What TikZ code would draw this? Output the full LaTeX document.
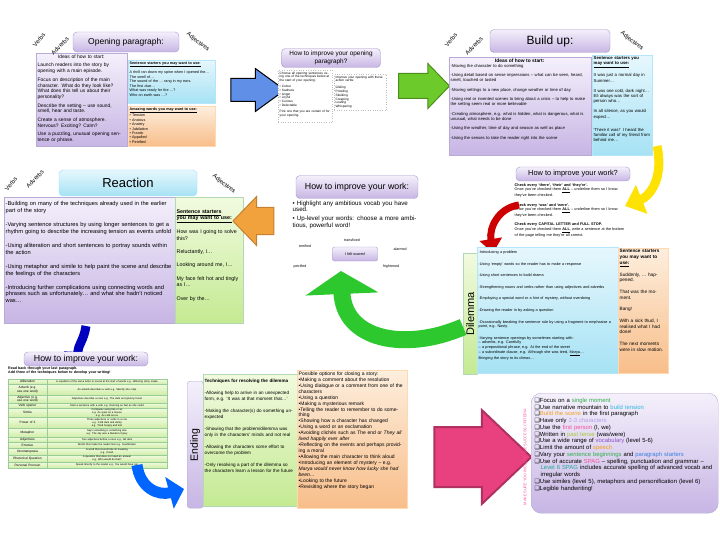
\documentclass[tikz,border=0pt]{standalone}
\usepackage{fontspec}
\setmainfont{Liberation Sans}
\newfontfamily\symfont{DejaVu Sans}
\usetikzlibrary{shapes.arrows,arrows.meta}

\definecolor{lavtop}{HTML}{F4F0FB}
\definecolor{lavbot}{HTML}{C7B5E4}
\definecolor{lavline}{HTML}{A696CC}
\definecolor{cyantop}{HTML}{E6F7FD}
\definecolor{cyanbot}{HTML}{A6E2F4}
\definecolor{orangetop}{HTML}{FDEEDD}
\definecolor{orangebot}{HTML}{F8BE8A}
\definecolor{greentop}{HTML}{F1FADF}
\definecolor{greenbot}{HTML}{C4EA92}
\definecolor{arrowblue}{HTML}{5F8FE6}
\definecolor{arrowgreen}{HTML}{6CCB2A}
\definecolor{arroworange}{HTML}{F2A23C}
\definecolor{arrowpink}{HTML}{E9417F}
\definecolor{bentgreen}{HTML}{2DC82D}
\definecolor{ckgreen}{HTML}{2FAE4A}
\definecolor{ckcyan}{HTML}{2EB8E0}
\definecolor{ckorange}{HTML}{F0A020}
\definecolor{cklav}{HTML}{B49CE6}
\definecolor{ckpink}{HTML}{F0509A}
\definecolor{ckyg}{HTML}{A8C838}
\definecolor{ckpurple}{HTML}{8A4FC8}
\definecolor{ckblue}{HTML}{3A7FE0}
\definecolor{ckteal}{HTML}{1FA89A}

\newcommand\ckitem{\par\noindent\hangindent=6pt\hangafter=1{\symfont\char"2751}}

\tikzset{
  titlebox/.style={draw=lavline, rounded corners=4pt, top color=lavtop, bottom color=lavbot, align=center, inner sep=1pt},
  purplepanel/.style={anchor=north west, inner sep=0pt, draw=lavline!80, top color=lavtop, bottom color=lavbot},
  cyanpanel/.style={anchor=north west, inner sep=0pt, draw=cyan!30, top color=cyantop, bottom color=cyanbot},
  orangepanel/.style={anchor=north west, inner sep=0pt, draw=orange!30, top color=orangetop, bottom color=orangebot},
  greenpanel/.style={anchor=north west, inner sep=0pt, draw=green!50!black!30, top color=greentop, bottom color=greenbot},
  plainpanel/.style={anchor=north west, inner sep=0pt, draw=gray!50, dotted, fill=white},
  tinytext/.style={anchor=north west, align=left, inner sep=1.5pt, font=\fontsize{3.9}{4.5}\selectfont},
  sidelabel/.style={font=\fontsize{6}{7}\selectfont, inner sep=0pt},
  wordlabel/.style={font=\fontsize{3.6}{4}\selectfont},
  blockarrow/.style={single arrow, inner xsep=0pt, line width=1pt},
  bentarrow/.style={line width=#1, line cap=butt},
}

\begin{document}
\begin{tikzpicture}[x=1pt,y=-1pt]
\useasboundingbox (0,0) rectangle (720,540);

% opening paragraph
\node[purplepanel, minimum width=91pt, minimum height=93pt] (openIdeas) at (36,53) {};
\node[tinytext, text width=87pt, font=\fontsize{4.9}{5.7}\selectfont] (openIdeasText) at (openIdeas.north west) {%
  \centering Ideas of how to start:\par\raggedright\vspace{3pt}
  Launch readers into the story by opening with a main episode.\\[3pt]
  Focus on description of the main character. What do they look like? What does this tell us about their personality?\\[3pt]
  Describe the setting -- use sound, smell, hear and taste.\\[3pt]
  Create a sense of atmosphere. Nervous? Exciting? Calm?\\[3pt]
  Use a puzzling, unusual opening sentence or phrase.};
\node[cyanpanel, minimum width=87pt, minimum height=43pt] (openStarters) at (128,60) {};
\node[tinytext, text width=84pt, font=\fontsize{3.7}{4.5}\selectfont] (openStartersText) at (openStarters.north west) {%
  \textbf{\underline{Sentence starters you may want to use:}}\\[3pt]
  A thrill ran down my spine when I opened the\ldots\\
  The smell of\ldots\\
  The sound of the \ldots{} rang in my ears.\\
  The first clue\ldots\\
  What was ready for the \ldots?\\
  Who on earth was \ldots?};
\node[orangepanel, minimum width=87pt, minimum height=40pt] (openWords) at (128,106) {};
\node[tinytext, text width=84pt, font=\fontsize{3.7}{4.4}\selectfont] (openWordsText) at (openWords.north west) {%
  \textbf{\underline{Amazing words you may want to use:}}\\
  \textbullet\ Tension\\ \textbullet\ Anxious\\ \textbullet\ Anxiety\\ \textbullet\ Jubilation\\
  \textbullet\ Frantic\\ \textbullet\ Appalled\\ \textbullet\ Petrified};
\node[titlebox, minimum width=106pt, minimum height=20pt, font=\fontsize{8.5}{10}\selectfont] (openTitle) at (126,42) {Opening paragraph:};
\node[sidelabel, rotate=50] (openVerbs) at (39,40) {Verbs};
\node[sidelabel, rotate=45] (openAdverbs) at (60,46) {Adverbs};
\node[sidelabel, rotate=-38] (openAdjectives) at (198,42) {Adjectives};

\node[blockarrow, draw=black, fill=arrowblue, minimum height=54pt, minimum width=42pt, inner ysep=11pt,
  single arrow head extend=10pt, single arrow tip angle=72] (arrowOne) at (250,90) {};

% improving the opening
\node[plainpanel, minimum width=54pt, minimum height=52pt] (impOpenLeft) at (278,70) {};
\node[tinytext, text width=51pt, font=\fontsize{3.2}{3.8}\selectfont] (impOpenLeftText) at (impOpenLeft.north west) {%
  Choose all opening sentences using one of the techniques below at the start of your opening:\\[2pt]
  \textbullet\ Colour\\ \textbullet\ Sadness\\ \textbullet\ Anger\\ \textbullet\ Joyful\\
  \textbullet\ Curious\\ \textbullet\ Delectable\\[2pt]
  Pick one that you are certain of for your opening.};
\node[plainpanel, minimum width=52pt, minimum height=36pt] (impOpenRight) at (334,74) {};
\node[tinytext, text width=49pt, font=\fontsize{3.2}{3.8}\selectfont] (impOpenRightText) at (impOpenRight.north west) {%
  Improve your opening with these action verbs:\\[3pt]
  Gliding\\ Prowling\\ Skulking\\ Creeping\\ Loafing\\ Whispering};
\node[titlebox, minimum width=99pt, minimum height=19pt, font=\fontsize{6.4}{7.4}\selectfont] (impOpenTitle) at (331,58) {How to improve your opening\\paragraph?};

\node[blockarrow, draw=arrowgreen!70!black, fill=arrowgreen, minimum height=51pt, minimum width=44pt, inner ysep=12pt,
  single arrow head extend=10pt, single arrow tip angle=92] (arrowTwo) at (418,86) {};

% build up
\node[purplepanel, minimum width=142pt, minimum height=98pt] (buildIdeas) at (449,57) {};
\node[tinytext, text width=138pt, font=\fontsize{4.2}{5}\selectfont] (buildIdeasText) at (buildIdeas.north west) {%
  \centering\textbf{\fontsize{4.9}{5.5}\selectfont Ideas of how to start:}\par\raggedright
  -Moving the character to do something\\[4.5pt]
  -Using detail based on sense impressions -- what can be seen, heard, smelt, touched or tasted\\[4.5pt]
  -Moving settings to a new place, change weather or time of day\\[4.5pt]
  -Using real or invented scenes to bring about a crisis -- to help to make the setting seem real or more believable\\[4.5pt]
  -Creating atmosphere, e.g. what is hidden, what is dangerous, what is unusual, what needs to be done\\[4.5pt]
  -Using the weather, time of day and season as well as place\\[4.5pt]
  -Using the senses to take the reader right into the scene};
\node[cyanpanel, minimum width=60pt, minimum height=100pt] (buildStarters) at (592,55) {};
\node[tinytext, text width=57pt, font=\fontsize{4.3}{5.2}\selectfont] (buildStartersText) at (buildStarters.north west) {%
  \textbf{Sentence starters you \underline{may want to use:}}\\[5pt]
  It was just a normal day in Summer\ldots\\[5pt]
  It was one cold, dark night\ldots\\
  Eli always was the sort of person who\ldots\\[5pt]
  In all silence, as you would expect\ldots\\[8pt]
  `There it was!' I heard the familiar call of my friend from behind me\ldots};
\node[titlebox, minimum width=120pt, minimum height=23pt, font=\fontsize{12}{14}\selectfont] (buildTitle) at (550,41) {Build up:};
\node[sidelabel, rotate=50] (buildVerbs) at (451,40) {Verbs};
\node[sidelabel, rotate=45] (buildAdverbs) at (474,46) {Adverbs};
\node[sidelabel, rotate=-38] (buildAdjectives) at (632,41) {Adjectives};

% checking the work
\node[titlebox, minimum width=114pt, minimum height=14pt, font=\fontsize{7.4}{8}\selectfont] (checkTitle) at (573,174) {How to improve your work?};
\node[tinytext, text width=112pt, font=\fontsize{3.8}{4.5}\selectfont] (checkText) at (513,182) {%
  \textbf{Check every `there', `their' and `they're'.}\\
  Once you've checked them \textbf{\underline{ALL}} -- underline them so I know they've been checked.\\[5pt]
  \textbf{Check every `was' and `were'.}\\
  Once you've checked them \textbf{\underline{ALL}} -- underline them so I know they've been checked.\\[5pt]
  \textbf{Check every CAPITAL LETTER and FULL STOP.}\\
  Once you've checked them \textbf{\underline{ALL}}, write a sentence at the bottom of the page telling me they're all correct.};
\coordinate (yellowStart) at (657,146);
\coordinate (yellowEnd) at (625,206);
\draw[bentarrow=9pt, draw=yellow!85!orange, -{Triangle[length=18pt, width=30pt]}]
  (yellowStart) .. controls (664,178) and (650,196) .. (yellowEnd);
\coordinate (redStart) at (519,205);
\coordinate (redEnd) at (493,253);
\draw[bentarrow=7pt, draw=red!80!black, -{Triangle[length=14pt, width=22pt]}]
  (redStart) .. controls (498,208) and (489,228) .. (redEnd);

% dilemma
\node[greenpanel, minimum width=14pt, minimum height=121pt] (dilLabel) at (463,253) {};
\node[rotate=90, font=\fontsize{11}{12}\selectfont] (dilLabelText) at (dilLabel.center) {Dilemma};
\node[cyanpanel, minimum width=141pt, minimum height=126pt] (dilIdeas) at (477,247) {};
\node[tinytext, text width=136pt, font=\fontsize{3.8}{4.6}\selectfont] (dilIdeasText) at ([yshift=-2pt]dilIdeas.north west) {%
  -Introducing a problem\\[7pt]
  -Using `empty' words so the reader has to make a response\\[7pt]
  -Using short sentences to build drama\\[7pt]
  -Strengthening nouns and verbs rather than using adjectives and adverbs\\[7pt]
  -Employing a special word or a hint of mystery, without overdoing\\[7pt]
  -Drawing the reader in by asking a question\\[7pt]
  -Occasionally breaking the sentence rule by using a fragment to emphasise a point, e.g. Nasty.\\[7pt]
  -Varying sentence openings by sometimes starting with:\\
  -- adverbs, e.g. Carefully\\
  -- a prepositional phrase, e.g. At the end of the street\\
  -- a subordinate clause, e.g. Although she was tired, \underline{Marya}\ldots\\
  Bringing the story to its climax\ldots};
\node[orangepanel, minimum width=50pt, minimum height=125pt] (dilStarters) at (618,248) {};
\node[tinytext, text width=46pt, font=\fontsize{4.7}{5.7}\selectfont] (dilStartersText) at (dilStarters.north west) {%
  \textbf{Sentence starters you may want to \underline{use:}}\\[6pt]
  Suddenly, \ldots{} happened.\\[6pt]
  That was the moment.\\[6pt]
  Bang!\\[6pt]
  With a sick thud, I realised what I had done!\\[6pt]
  The next moments were in slow motion.};

% reaction
\node[purplepanel, minimum width=171pt, minimum height=126pt] (reactIdeas) at (4,197) {};
\node[tinytext, text width=166pt, font=\fontsize{5.7}{6.9}\selectfont] (reactIdeasText) at ([yshift=-3pt]reactIdeas.north west) {%
  -Building on many of the techniques already used in the earlier part of the story\\[7pt]
  -Varying sentence structures by using longer sentences to get a rhythm going to describe the increasing tension as events unfold\\[7pt]
  -Using alliteration and short sentences to portray sounds within the action\\[7pt]
  -Using metaphor and simile to help paint the scene and describe the feelings of the characters\\[7pt]
  -Introducing further complications using connecting words and phrases such as unfortunately\ldots{} and what she hadn't noticed was\ldots};
\node[greenpanel, minimum width=68pt, minimum height=126pt] (reactStarters) at (175,197) {};
\node[tinytext, text width=64pt, font=\fontsize{5.3}{6.4}\selectfont] (reactStartersText) at ([yshift=-11pt]reactStarters.north west) {%
  \textbf{\underline{Sentence starters}}\\ \textbf{\underline{you may want to use:}}\\[6pt]
  How was I going to solve this?\\[7pt]
  Reluctantly, I\ldots\\[7pt]
  Looking around me, I\ldots\\[7pt]
  My face felt hot and tingly as I\ldots\\[7pt]
  Over by the\ldots};
\node[titlebox, draw=cyan!40, top color=cyantop, bottom color=cyanbot, minimum width=138pt, minimum height=26pt,
  font=\fontsize{13}{15}\selectfont] (reactTitle) at (128,183) {Reaction};
\node[sidelabel, rotate=50] (reactVerbs) at (11,184) {Verbs};
\node[sidelabel, rotate=45] (reactAdverbs) at (35,179) {Adverbs};
\node[sidelabel, rotate=-38] (reactAdjectives) at (224,184) {Adjectives};

\node[blockarrow, draw=arroworange!80!black, fill=arroworange, shape border rotate=180, minimum height=41pt, minimum width=48pt,
  inner ysep=13pt, single arrow head extend=11pt, single arrow tip angle=92] (arrowThree) at (260,221) {};

% up-levelling words
\node[titlebox, minimum width=122pt, minimum height=23pt, font=\fontsize{8.8}{10}\selectfont] (wordTitle) at (357,187) {How to improve your work:};
\node[tinytext, text width=128pt, font=\fontsize{6.2}{6.8}\selectfont] (wordText) at (291,199) {%
  \textbullet\ Highlight any ambitious vocab you have used.\\[1.5pt]
  \textbullet\ Up-level your words: choose a more ambitious, powerful word!};
\node[wordlabel] (wordOne) at (352,240) {transfixed};
\node[wordlabel] (wordTwo) at (305,246) {terrified};
\node[wordlabel] (wordThree) at (400,249) {alarmed};
\node[titlebox, rounded corners=2pt, minimum width=45pt, minimum height=14pt, font=\fontsize{3.8}{4}\selectfont] (wordScared) at (355,254) {I felt scared};
\node[wordlabel] (wordFour) at (300,267) {petrified};
\node[wordlabel] (wordFive) at (391,267) {frightened};
\coordinate (greenStart) at (463,327);
\coordinate (greenEnd) at (341,271);
\draw[bentarrow=17pt, draw=bentgreen, -{Triangle[length=23pt, width=72pt]}]
  (greenStart) .. controls (405,352) and (344,340) .. (greenEnd);

% techniques table
\coordinate (blueStart) at (86,326);
\coordinate (blueEnd) at (77,366);
\draw[bentarrow=9pt, draw=blue!75!black, -{Triangle[length=14pt, width=27pt]}]
  (blueStart) .. controls (84,340) and (78,345) .. (blueEnd);
\node[titlebox, minimum width=124pt, minimum height=14pt, font=\fontsize{8.8}{10}\selectfont] (tableTitle) at (86,359) {How to improve your work:};
\node[tinytext, text width=165pt, font=\fontsize{3.6}{4.1}\selectfont, inner sep=0pt] (tableIntro) at (8,367) {%
  \textbf{Read back through your last paragraph.}\\
  \textbf{Add three of the techniques below to develop your writing!}};
\foreach \lbl/\ya/\yb/\dsc [count=\i] in {
  Alliteration/379/384/{A repetition of the same letter or sound at the start of words e.g. slithering slimy snake},
  Adverb (e.g. use one word)/384/395/{An adverb describes a verb e.g. Silently she crept},
  Adjective (e.g. use one word)/395/403/{Adjectives describe a noun e.g. The dark and gloomy forest},
  Verb opener/403/408/{Start a sentence with a verb e.g. Running as fast as she could},
  Simile/408/417/{Compares using like or as\\e.g. As quiet as a mouse\\e.g. As cold as ice},
  Power of 3/417/428/{Three adjectives or verbs in a row\\e.g. Cold dark and damp\\e.g. Tired hungry and lost},
  Metaphor/428/437/{Says something is something else\\e.g. The sky was a blanket of grey},
  Adjectives/437/442/{Two adjectives before a noun e.g. tall dark},
  Emotive/442/448/{Words that make the reader feel e.g. heartbroken},
  Onomatopoeia/448/455/{A word that sounds like its meaning\\e.g. Crash},
  Rhetorical Question/455/462/{A question that does not need an answer\\e.g. Who would do that?},
  Personal Pronoun/462/468/{Speak directly to the reader e.g. You would have run}
} {
  \draw[draw=green!50!black!40, top color=greentop, bottom color=greenbot!80] (8,\ya) rectangle (167,\yb);
  \draw[draw=green!50!black!40] (47,\ya) -- (47,\yb);
  \node[font=\fontsize{3.2}{3.5}\selectfont, align=center, text width=38pt, inner sep=0pt] (tableName\i) at (27.5,{(\ya+\yb)/2}) {\lbl};
  \node[font=\fontsize{2.6}{3}\selectfont, align=center, text width=118pt, inner sep=0pt] (tableDesc\i) at (107,{(\ya+\yb)/2}) {\dsc};
}
\coordinate (curveStart) at (137,465);
\coordinate (curveEnd) at (184,489);
\draw[bentarrow=11pt, draw=blue!60!cyan, -{Triangle[length=15pt, width=32pt]}]
  (curveStart) .. controls (140,488) and (158,496) .. (curveEnd);

% ending
\node[purplepanel, rounded corners=3pt, minimum width=16pt, minimum height=127pt] (endLabel) at (187,381) {};
\node[rotate=90, font=\fontsize{10.5}{12}\selectfont] (endLabelText) at (endLabel.center) {Ending};
\node[greenpanel, minimum width=94pt, minimum height=132pt] (endIdeas) at (203,374) {};
\node[tinytext, text width=90pt, font=\fontsize{4.6}{5.5}\selectfont] (endIdeasText) at ([yshift=-3pt]endIdeas.north west) {%
  \textbf{Techniques for resolving the dilemma}\\[7pt]
  -Allowing help to arrive in an unexpected form, e.g. `It was at that moment that\ldots'\\[7pt]
  -Making the character(s) do something unexpected\\[7pt]
  -Showing that the problem/dilemma was only in the characters' minds and not real\\[7pt]
  -Allowing the characters some effort to overcome the problem\\[7pt]
  -Only resolving a part of the dilemma so the characters learn a lesson for the future};
\node[orangepanel, minimum width=110pt, minimum height=138pt] (endOptions) at (297,370) {};
\node[tinytext, text width=106pt, font=\fontsize{5}{5.95}\selectfont] (endOptionsText) at (endOptions.north west) {%
  Possible options for closing a story:\\
  \textbullet Making a comment about the resolution\\
  \textbullet Using dialogue or a comment from one of the characters\\
  \textbullet Using a question\\
  \textbullet Making a mysterious remark\\
  \textbullet Telling the reader to remember to do something\\
  \textbullet Showing how a character has changed\\
  \textbullet Using a word or an exclamation\\
  \textbullet Avoiding clich\'es such as The end or \textit{They all lived happily ever after}\\
  \textbullet Reflecting on the events and perhaps providing a moral\\
  \textbullet Allowing the main character to think aloud\\
  \textbullet Introducing an element of mystery -- e.g. \textit{Marya would never know how lucky she had been\ldots}\\
  \textbullet Looking to the future\\
  \textbullet Revisiting where the story began};

\node[blockarrow, line width=2pt, draw=arrowpink!75!black, fill=arrowpink, minimum height=97pt, minimum width=92pt,
  inner ysep=29pt, single arrow head extend=17pt, single arrow tip angle=87] (arrowFour) at (467,457) {};

% success criteria
\node[rotate=90, font=\fontsize{3.8}{4}\selectfont, text=ckpink] (critSide) at (525,457) {MAKE SURE YOU INCLUDE THE SUCCESS CRITERIA};
\node[purplepanel, rounded corners=10pt, minimum width=187pt, minimum height=120pt] (critBox) at (531,393) {};
\node[tinytext, text width=180pt, font=\fontsize{5.9}{6.75}\selectfont] (critText) at ([xshift=2pt, yshift=-1pt]critBox.north west) {%
  \ckitem Focus on a \textcolor{ckgreen}{single moment}
  \ckitem Use narrative mountain to \textcolor{ckcyan}{build tension}
  \ckitem \textcolor{ckorange}{Build the scene} in the first paragraph
  \ckitem Have only \textcolor{cklav}{2-3 characters}
  \ckitem Use the \textcolor{ckpink}{first person} (I, we)
  \ckitem Written in \textcolor{ckyg}{past tense} (was/were)
  \ckitem Use a wide range of \textcolor{ckpurple}{vocabulary} (level 5-6)
  \ckitem Limit the amount of \textcolor{ckorange}{speech}
  \ckitem Vary your \textcolor{ckgreen}{sentence beginnings} and \textcolor{ckblue}{paragraph starters}
  \ckitem Use of accurate \textcolor{ckpink}{SPAG} -- spelling, punctuation and grammar -- \textcolor{ckteal}{Level 6 SPAG} includes accurate spelling of advanced vocab and irregular words
  \ckitem Use similes (level 5), metaphors and personification (level 6)
  \ckitem Legible handwriting!\par};
\end{tikzpicture}
\end{document}
